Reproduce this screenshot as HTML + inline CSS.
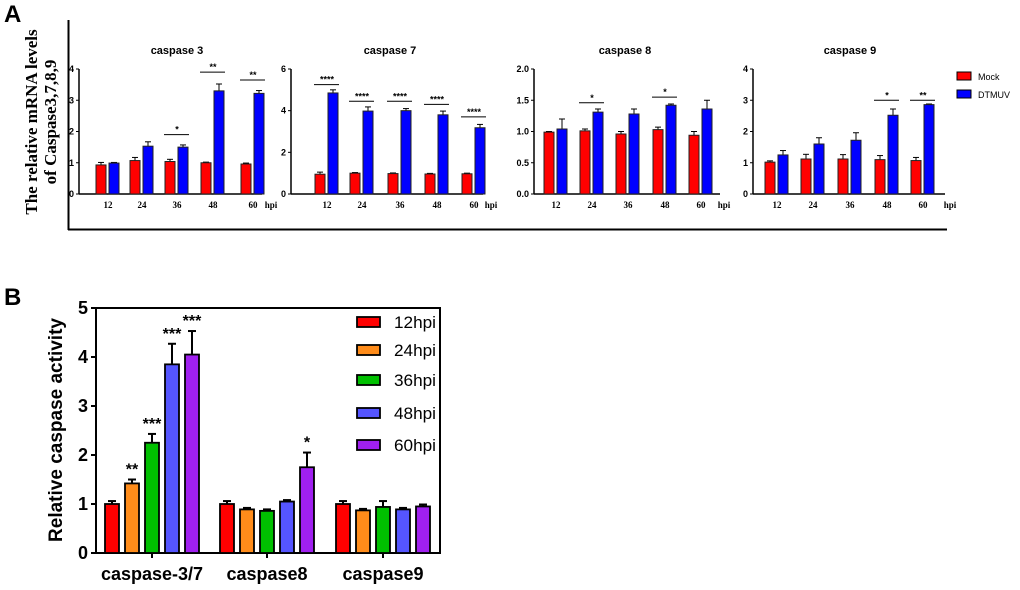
<!DOCTYPE html>
<html><head><meta charset="utf-8"><style>
body{margin:0;background:#fff;}
svg{display:block;font-family:"Liberation Sans",Arial,sans-serif;}
</style></head><body>
<svg id="fig" width="1020" height="590" viewBox="0 0 1020 590">
<text x="4" y="22" font-size="24" font-weight="bold">A</text>
<text x="4" y="305" font-size="24" font-weight="bold">B</text>
<line x1="68.5" y1="20" x2="68.5" y2="230" stroke="#000" stroke-width="2"/>
<line x1="68" y1="229.5" x2="947" y2="229.5" stroke="#000" stroke-width="2"/>
<g transform="translate(40,122) rotate(-90)" font-family="'Liberation Serif',serif" font-weight="bold" font-size="17" text-anchor="middle">
<text y="-3">The relative mRNA levels</text><text y="16">of Caspase3,7,8,9</text></g>
<g>
<rect x="957" y="72" width="14" height="8" fill="#ff0000" stroke="#000"/>
<text x="978" y="80" font-size="9">Mock</text>
<rect x="957" y="90" width="14" height="8" fill="#0000ff" stroke="#000"/>
<text x="978" y="98" font-size="9">DTMUV</text>
</g>
</svg>
<script>
const hpiLabels=["12","24","36","48","60"];
const c3Mock=[0.93,1.07,1.04,1.0,0.96];
const c3MockErr=[0.08,0.1,0.07,0.02,0.03];
const c3Dt=[0.99,1.53,1.5,3.3,3.22];
const c3DtErr=[0.02,0.14,0.07,0.22,0.09];
const c3Sig=["","","*","**","**"];
const c3SigY=[0,0,1.9,3.9,3.65];
const c7Mock=[0.95,1.0,0.98,0.96,0.97];
const c7MockErr=[0.1,0.03,0.03,0.03,0.03];
const c7Dt=[4.85,3.98,4.0,3.8,3.18];
const c7DtErr=[0.15,0.2,0.1,0.18,0.16];
const c7Sig=["****","****","****","****","****"];
const c7SigY=[5.25,4.45,4.45,4.3,3.7];
const c8Mock=[0.99,1.01,0.96,1.03,0.94];
const c8MockErr=[0.01,0.03,0.04,0.04,0.06];
const c8Dt=[1.04,1.31,1.28,1.42,1.36];
const c8DtErr=[0.16,0.05,0.08,0.02,0.14];
const c8Sig=["","*","","*",""];
const c8SigY=[0,1.46,0,1.55,0];
const c9Mock=[1.02,1.12,1.12,1.1,1.07];
const c9MockErr=[0.04,0.15,0.14,0.13,0.1];
const c9Dt=[1.25,1.6,1.72,2.52,2.86];
const c9DtErr=[0.14,0.2,0.24,0.2,0.02];
const c9Sig=["","","","*","**"];
const c9SigY=[0,0,0,3.0,3.0];
const c3Ticks=[0,1,2,3,4], c7Ticks=[0,2,4,6], c8Ticks=[0,0.5,1.0,1.5,2.0], c9Ticks=[0,1,2,3,4];
const bGroups=["caspase-3/7","caspase8","caspase9"];
const bSeries=["12hpi","24hpi","36hpi","48hpi","60hpi"];
const bVals=[[1.0,1.42,2.25,3.85,4.05],[1.0,0.89,0.86,1.05,1.75],[1.0,0.87,0.94,0.89,0.95]];
const bErr=[[0.06,0.08,0.18,0.42,0.48],[0.06,0.03,0.03,0.03,0.3],[0.06,0.03,0.12,0.03,0.04]];
const bSig=[["","**","***","***","***"],["","","","","*"],["","","","",""]];
const bTicks=[0,1,2,3,4,5];

const svg=document.getElementById('fig');
const NS="http://www.w3.org/2000/svg";
function mk(tag,attrs,parent,text){const e=document.createElementNS(NS,tag);for(const k in attrs)e.setAttribute(k,attrs[k]);if(text!==undefined)e.textContent=text;(parent||svg).appendChild(e);return e;}

function panelA(cfg){
  const g=mk('g',{});
  
  
  const y0=194,y1=69,max=cfg.ticks[cfg.ticks.length-1];
  const ys=v=>y0-(v/max)*(y0-y1);
  const t=mk('text',{x:cfg.title_x,y:54,'font-size':11,'font-weight':'bold','text-anchor':'middle'},g,cfg.title);
  
  
  mk('line',{x1:cfg.ax,y1:y1,x2:cfg.ax,y2:y0,stroke:'#000','stroke-width':1.5},g);
  mk('line',{x1:cfg.ax,y1:y0,x2:cfg.xend,y2:y0,stroke:'#000','stroke-width':1.5},g);
  cfg.ticks.forEach(tv=>{const y=ys(tv);mk('line',{x1:cfg.ax-3,y1:y,x2:cfg.ax,y2:y,stroke:'#000'},g);
    const tl=mk('text',{x:cfg.ax-5,y:y+3,'font-size':9,'font-weight':'bold','text-anchor':'end'},g,cfg.fmt?tv.toFixed(1):tv);
    
    });
  hpiLabels.forEach((lab,i)=>{
    const c=cfg.centers[i];
    const l=mk('text',{x:c,y:208,'font-size':9,'font-weight':'bold','font-family':"'Liberation Serif',serif",'text-anchor':'middle'},g,lab);
    
    
    [[cfg.mock,cfg.mockErr,'#ff0000',c-12],[cfg.dt,cfg.dtErr,'#0000ff',c+1]].forEach(([v,e,col,x],k)=>{
      const top=ys(v[i]),et=ys(v[i]+e[i]);
      mk('line',{x1:x+5,y1:top,x2:x+5,y2:et,stroke:'#000'},g);
      mk('line',{x1:x+2,y1:et,x2:x+8,y2:et,stroke:'#000'},g);
      const r=mk('rect',{x:x,y:top,width:10,height:y0-top,fill:col,stroke:'#222','stroke-width':1},g);
      
      
    });
    if(cfg.sig[i]){const sy=ys(cfg.sigY[i]);
      mk('line',{x1:c-13,y1:sy,x2:c+12,y2:sy,stroke:'#000'},g);
      const s=mk('text',{x:c,y:sy-2,'font-size':9,'font-weight':'bold','text-anchor':'middle'},g,cfg.sig[i]);
      
      }
  });
  const h=mk('text',{x:cfg.hpi,y:208,'font-size':9,'font-weight':'bold','font-family':"'Liberation Serif',serif",'text-anchor':'middle'},g,'hpi');
  
  
}
panelA({name:'caspase3-chart',title:'caspase 3',title_x:177,ax:79,xend:262,centers:[108,142,177,213,253],hpi:271,ticks:c3Ticks,mock:c3Mock,mockErr:c3MockErr,dt:c3Dt,dtErr:c3DtErr,sig:c3Sig,sigY:c3SigY});
panelA({name:'caspase7-chart',title:'caspase 7',title_x:390,ax:291,xend:483,centers:[327,362,400,437,474],hpi:491,ticks:c7Ticks,mock:c7Mock,mockErr:c7MockErr,dt:c7Dt,dtErr:c7DtErr,sig:c7Sig,sigY:c7SigY});
panelA({name:'caspase8-chart',title:'caspase 8',title_x:625,ax:534,xend:720,centers:[556,592,628,665,701],hpi:724,ticks:c8Ticks,fmt:true,mock:c8Mock,mockErr:c8MockErr,dt:c8Dt,dtErr:c8DtErr,sig:c8Sig,sigY:c8SigY});
panelA({name:'caspase9-chart',title:'caspase 9',title_x:850,ax:753,xend:945,centers:[777,813,850,887,923],hpi:950,ticks:c9Ticks,mock:c9Mock,mockErr:c9MockErr,dt:c9Dt,dtErr:c9DtErr,sig:c9Sig,sigY:c9SigY});

// Panel B
(function(){
  const g=mk('g',{});
  
  
  const x0=96,x1=440,y0=553,y1=308,max=5;
  const ys=v=>y0-(v/max)*(y0-y1);
  const cols=['#ff0000','#ff8c1a','#00c000','#5555ff','#a020f0'];
  const gStart=[105,220,336];
  mk('rect',{x:x0,y:y1,width:x1-x0,height:y0-y1,fill:'none',stroke:'#000','stroke-width':2},g);
  bGroups.forEach((gn,gi)=>{
    bVals[gi].forEach((v,si)=>{
      const x=gStart[gi]+si*20, top=ys(v), et=ys(v+bErr[gi][si]);
      mk('line',{x1:x+7,y1:top,x2:x+7,y2:et,stroke:'#000','stroke-width':2},g);
      mk('line',{x1:x+3,y1:et,x2:x+11,y2:et,stroke:'#000','stroke-width':2},g);
      const r=mk('rect',{x:x,y:top,width:14,height:y0-top,fill:cols[si],stroke:'#000','stroke-width':1.8},g);
      
      
      if(bSig[gi][si]){const s=mk('text',{x:x+7,y:et-5,'font-size':16,'font-weight':'bold','text-anchor':'middle'},g,bSig[gi][si]);
        
        }
    });
    const c=gStart[gi]+47;
    mk('line',{x1:c,y1:y0,x2:c,y2:y0+5,stroke:'#000','stroke-width':2},g);
    const l=mk('text',{x:c,y:580,'font-size':18,'font-weight':'bold','text-anchor':'middle'},g,gn);
    
    
  });
  bTicks.forEach(tv=>{const y=ys(tv);mk('line',{x1:x0-5,y1:y,x2:x0,y2:y,stroke:'#000','stroke-width':2},g);
    const t=mk('text',{x:x0-8,y:y+6,'font-size':18,'font-weight':'bold','text-anchor':'end'},g,tv);
    
    });
  const yt=mk('text',{transform:'translate(62,430) rotate(-90)','font-size':19,'font-weight':'bold','text-anchor':'middle'},g,'Relative caspase activity');
  
  
  const ly=[322,350,380,413,445];
  bSeries.forEach((s,i)=>{
    const r=mk('rect',{x:357,y:ly[i]-5,width:23,height:10,fill:cols[i],stroke:'#000','stroke-width':1.8},g);
    
    
    const t=mk('text',{x:394,y:ly[i]+6,'font-size':17,textLength:42,lengthAdjust:'spacingAndGlyphs'},g,s);
    
    
  });
})();
</script>
</body></html>
